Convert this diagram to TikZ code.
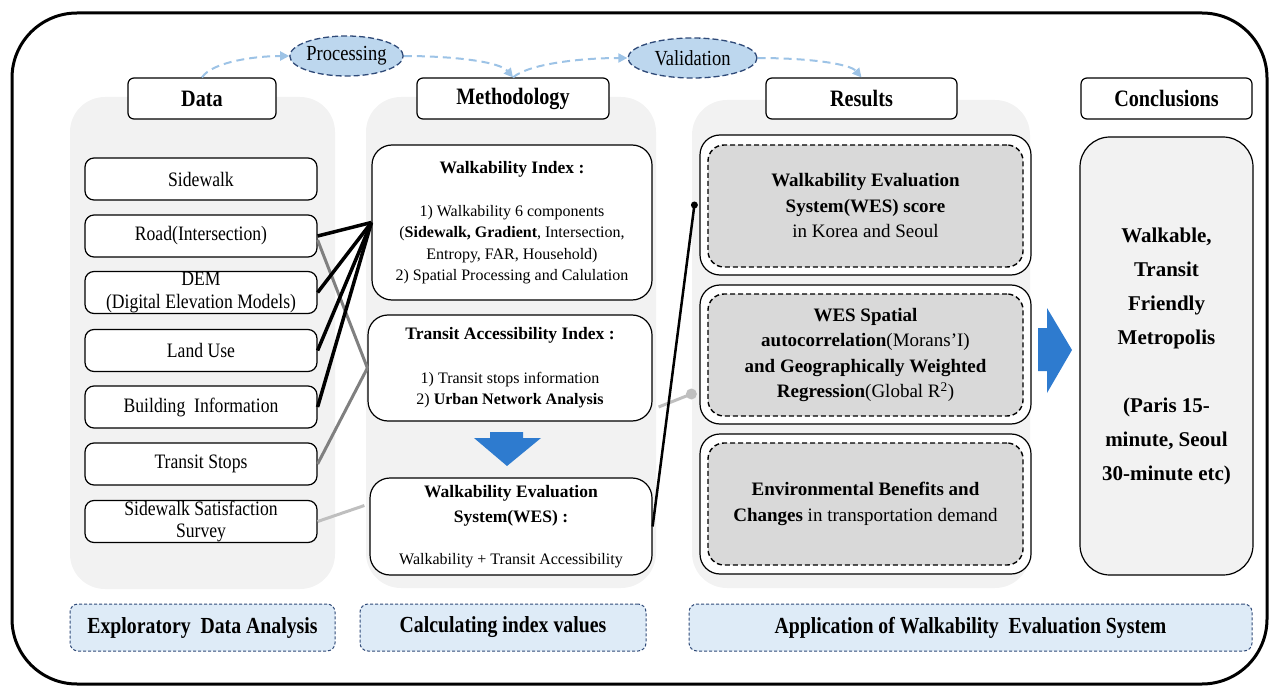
\documentclass[tikz,border=0pt]{standalone}
\usepackage{fontspec}
\setmainfont{Liberation Serif}
\newfontfamily\condfont{Liberation Serif}[FakeStretch=0.86]
\usetikzlibrary{shapes.geometric,arrows.meta}
\definecolor{colbg}{HTML}{F2F2F2}
\definecolor{resfill}{HTML}{D9D9D9}
\definecolor{labfill}{HTML}{DEEBF7}
\definecolor{navy}{HTML}{2F4A78}
\definecolor{ellfill}{HTML}{BDD7EE}
\definecolor{flowc}{HTML}{9DC3E6}
\definecolor{bluearr}{HTML}{2E7BCF}
\definecolor{midgray}{HTML}{808080}
\definecolor{ltgray}{HTML}{BFBFBF}
\newcommand{\fsz}[2]{\fontsize{#1}{#2}\selectfont}
\begin{document}
\begin{tikzpicture}[x=1pt,y=-1pt,
 outerframe/.style={draw=black,line width=3pt,rounded corners=65pt},
 colfill/.style={fill=colbg,rounded corners=35pt},
 hdr/.style={draw=black,fill=white,line width=1.2pt,rounded corners=6pt,inner sep=0pt,minimum height=41pt,font=\condfont\bfseries\fsz{23.5}{26}},
 dbox/.style={draw=black,fill=white,line width=1.2pt,rounded corners=9pt,inner sep=0pt,minimum width=232pt,minimum height=42pt,align=center,font=\condfont\fsz{20.5}{22.5}},
 mbox/.style={draw=black,fill=white,line width=1.2pt,rounded corners=20pt,inner sep=0pt,align=center,font=\fsz{16}{21.5}},
 rout/.style={draw=black,fill=white,line width=1.2pt,rounded corners=20pt,minimum width=331pt,minimum height=140pt,inner sep=0pt},
 rin/.style={draw=black,fill=resfill,line width=1.4pt,dash pattern=on 5pt off 3pt,rounded corners=16pt,minimum width=315pt,minimum height=122pt,inner sep=0pt,align=center,font=\fsz{19}{25.5}},
 concl/.style={draw=black,fill=colbg,line width=1.2pt,rounded corners=30pt,minimum width=173pt,minimum height=438pt,inner sep=0pt,align=center,font=\bfseries\fsz{21}{34}},
 lab/.style={draw=navy,fill=labfill,line width=1pt,dash pattern=on 3pt off 2pt,rounded corners=8pt,minimum height=47pt,inner sep=0pt,font=\condfont\bfseries\fsz{23}{26}},
 ell/.style={ellipse,draw=navy,fill=ellfill,line width=1.3pt,dash pattern=on 6pt off 3pt,inner sep=0pt,minimum height=40pt,font=\condfont\fsz{21.5}{23}},
 flow/.style={draw=flowc,line width=2pt,dash pattern=on 8pt off 5pt,-{Triangle[length=9pt,width=9pt]}},
 blk/.style={draw=black,line width=3.5pt},
 gry/.style={draw=midgray,line width=3pt},
 lgry/.style={draw=ltgray,line width=3pt},
 wesline/.style={draw=black,line width=2.5pt},
]
\useasboundingbox (0,0) rectangle (1280,687);
% outer frame
\draw[outerframe] (12,13) rectangle (1267,684);
% column backgrounds
\fill[colfill] (70,97) rectangle (335,589);
\fill[colfill] (366,97) rectangle (656,588);
\fill[colfill] (692,100) rectangle (1030,588);
% headers
\node[hdr,minimum width=148pt] (hdata) at (202,98.5) {Data};
\node[hdr,minimum width=192pt] (hmeth) at (513,98.5) {Methodology};
\node[hdr,minimum width=191pt] (hres) at (861.5,98.5) {Results};
\node[hdr,minimum width=171pt] (hconc) at (1166.5,98.5) {Conclusions};
% ellipses
\node[ell,minimum width=101pt] (proc) at (346.5,56) {Processing};
\node[ell,minimum width=129pt] (valid) at (692.5,58) {Validation};
% flow arrows
\draw[flow] (hdata.north) .. controls (212,62) and (255,56) .. (proc.west);
\draw[flow] (proc.east) .. controls (455,56) and (500,62) .. (hmeth.north);
\draw[flow] (hmeth.north) .. controls (530,63) and (585,58) .. (valid.west);
\draw[flow] (valid.east) .. controls (810,58) and (850,64) .. (hres.north);
% data boxes
\node[dbox] (sidewalk) at (201,179) {Sidewalk};
\node[dbox] (road) at (201,236) {Road(Intersection)};
\node[dbox] (dem) at (201,292.5) {DEM\\(Digital Elevation Models)};
\node[dbox] (landuse) at (201,350.5) {Land Use};
\node[dbox] (building) at (201,407) {Building\ \ Information};
\node[dbox] (transit) at (201,464) {Transit Stops};
\node[dbox] (survey) at (201,521.5) {Sidewalk Satisfaction\\Survey};
% methodology boxes
\node[mbox,minimum width=280pt,minimum height=155pt] (wi) at (512,222.5)
 {{\bfseries\fsz{17.5}{21.5}Walkability Index :}\\[21.5pt]
  1) Walkability 6 components\\
  (\textbf{Sidewalk, Gradient}, Intersection,\\
  Entropy, FAR, Household)\\
  2) Spatial Processing and Calulation};
\node[mbox,minimum width=284pt,minimum height=106pt] (ta) at (510,368)
 {{\bfseries\fsz{17.5}{21.5}Transit Accessibility Index :}\\[22pt]
  1) Transit stops information\\
  2) \textbf{Urban Network Analysis}};
\node[mbox,minimum width=282pt,minimum height=97pt,font=\bfseries\fsz{17.5}{25}] (wes) at (511,526.5)
 {Walkability Evaluation\\System(WES) :\\[17pt]
  {\mdseries\fsz{16}{25}Walkability + Transit Accessibility}};
% down arrow
\fill[bluearr] (490,432) -- (523,432) -- (523,438) -- (541,438) -- (507,466) -- (474,438) -- (490,438) -- cycle;
% results
\node[rout] (r1) at (865.5,205) {};
\node[rout,minimum height=139pt] (r2) at (865.5,354.5) {};
\node[rout] (r3) at (865.5,504) {};
\node[rin] (i1) at (865.5,206)
 {\textbf{Walkability Evaluation}\\\textbf{System(WES) score}\\in Korea and Seoul};
\node[rin] (i2) at (865.5,355)
 {\textbf{WES Spatial}\\\textbf{autocorrelation}(Morans’I)\\\textbf{and Geographically Weighted}\\\textbf{Regression}(Global R\textsuperscript{2})};
\node[rin] (i3) at (865.5,504)
 {\textbf{Environmental Benefits and}\\\textbf{Changes} in transportation demand};
% right arrow
\fill[bluearr] (1038,328) -- (1047,328) -- (1047,308) -- (1072,350) -- (1047,393) -- (1047,371) -- (1038,371) -- cycle;
% conclusions
\node[concl] (conc) at (1166.5,356)
 {Walkable,\\Transit\\Friendly\\Metropolis\\[34pt](Paris 15-\\minute, Seoul\\30-minute etc)};
% bottom labels
\node[lab,minimum width=265pt] (l1) at (202.5,627.5) {Exploratory\ \ Data Analysis};
\node[lab,minimum width=286pt] (l2) at (503,627.5) {Calculating index values};
\node[lab,minimum width=563pt] (l3) at (970.5,627.5) {Application of Walkability\ \ Evaluation System};
% connectors
\draw[gry] ([yshift=-4pt]road.east) -- (ta.west);
\draw[gry] (transit.east) -- (ta.west);
\draw[blk] (road.east) -- (wi.west);
\draw[blk] (dem.east) -- (wi.west);
\draw[blk] (landuse.east) -- (wi.west);
\draw[blk] (building.east) -- (wi.west);
\coordinate (wesin) at ([xshift=-5pt,yshift=21pt]wes.west);
\draw[lgry] (survey.east) -- (wesin);
\coordinate (taout) at ([xshift=6pt,yshift=-39pt]ta.east);
\coordinate (d2) at ([xshift=-8pt,yshift=-39.5pt]r2.west);
\draw[lgry] (taout) -- (d2);
\fill[ltgray] (d2) circle (5.5);
\coordinate (d1) at ([xshift=-5pt]r1.west);
\draw[wesline] (wes.east) -- (d1);
\fill[black] (d1) circle (3.5);
\end{tikzpicture}
\end{document}
